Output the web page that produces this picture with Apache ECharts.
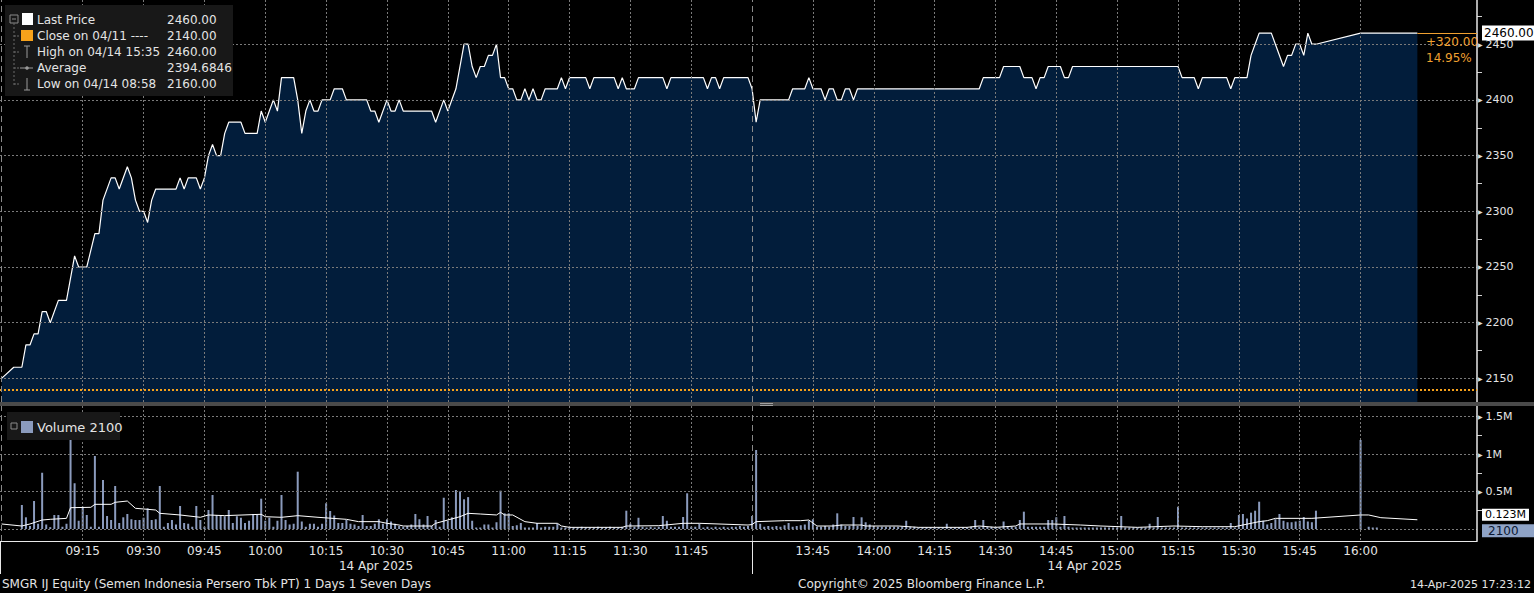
<!DOCTYPE html>
<html><head><meta charset="utf-8">
<script src="https://cdn.jsdelivr.net/npm/echarts@6/dist/echarts.min.js"></script>
<style>html,body{margin:0;padding:0;background:#000;}#c{width:1534px;height:593px;}</style>
</head><body><div id="c"></div>
<script>
// ---------- DATA ----------
const priceData = [
['08:55',2150],['08:58',2160],['09:00',2160],['09:01',2180],['09:02',2180],['09:03',2190],['09:04',2190],['09:05',2210],['09:06',2210],['09:07',2200],
['09:09',2220],['09:11',2220],['09:13',2260],['09:14',2250],['09:16',2250],['09:18',2280],['09:19',2280],['09:20',2310],['09:22',2330],['09:23',2330],
['09:24',2320],['09:26',2340],['09:27',2330],['09:28',2310],['09:29',2300],['09:30',2300],['09:31',2290],['09:32',2310],['09:33',2320],['09:38',2320],
['09:39',2330],['09:40',2320],['09:41',2330],['09:43',2330],['09:44',2320],['09:45',2330],['09:46',2350],['09:47',2360],['09:48',2350],['09:49',2350],
['09:50',2370],['09:51',2380],['09:54',2380],['09:55',2370],['09:58',2370],['09:59',2390],['10:00',2380],['10:01',2390],['10:02',2400],['10:03',2390],
['10:04',2420],['10:07',2420],['10:08',2400],['10:09',2370],['10:10',2390],['10:11',2400],['10:12',2390],['10:13',2390],['10:14',2400],['10:16',2400],
['10:17',2410],['10:19',2410],['10:20',2400],['10:25',2400],['10:26',2390],['10:27',2390],['10:28',2380],['10:30',2400],['10:31',2390],['10:32',2390],
['10:33',2400],['10:34',2390],['10:41',2390],['10:42',2380],['10:44',2400],['10:45',2390],['10:47',2410],['10:49',2450],['10:50',2450],['10:51',2430],
['10:52',2420],['10:53',2430],['10:54',2430],['10:55',2440],['10:56',2440],['10:57',2450],['10:58',2420],['10:59',2420],['11:00',2410],['11:01',2410],
['11:02',2400],['11:03',2400],['11:04',2410],['11:05',2400],['11:06',2410],['11:07',2400],['11:08',2400],['11:09',2410],['11:12',2410],['11:13',2420],
['11:14',2410],['11:15',2420],['11:19',2420],['11:20',2410],['11:21',2420],['11:26',2420],['11:27',2410],['11:28',2420],['11:29',2410],['11:31',2410],
['11:32',2420],['11:38',2420],['11:39',2410],['11:40',2420],['11:48',2420],['11:49',2410],['11:50',2420],['11:51',2420],['11:52',2410],['11:53',2420],
['11:59',2420],['13:30',2410],['13:31',2380],['13:32',2400],['13:39',2400],['13:40',2410],['13:43',2410],['13:44',2420],['13:45',2410],['13:47',2410],
['13:48',2400],['13:49',2410],['13:50',2410],['13:51',2400],['13:52',2400],['13:53',2410],['13:54',2410],['13:55',2400],['13:56',2410],['14:26',2410],
['14:27',2420],['14:31',2420],['14:32',2430],['14:36',2430],['14:37',2420],['14:39',2420],['14:40',2410],['14:41',2420],['14:42',2420],['14:43',2430],
['14:46',2430],['14:47',2420],['14:48',2420],['14:49',2430],['15:15',2430],['15:16',2420],['15:19',2420],['15:20',2410],['15:21',2420],['15:27',2420],
['15:28',2410],['15:29',2420],['15:32',2420],['15:33',2440],['15:34',2450],['15:35',2460],['15:38',2460],['15:39',2450],['15:41',2430],['15:42',2440],
['15:43',2440],['15:44',2450],['15:45',2450],['15:46',2440],['15:47',2460],['15:48',2450],['15:49',2450],['16:00',2460],['16:14',2460]
];
const prevClose = 2140;

// volume in thousands of shares, one value per minute
const volMorningStart = '09:00';
const volMorning = [
320,156,40,373,70,750,60,25,187,187,
30,70,1360,610,110,297,187,30,973,30,
653,173,120,573,80,156,200,130,120,120,
150,276,120,130,573,30,80,120,60,307,
80,70,30,307,120,30,253,453,187,187,
170,253,80,170,150,80,110,200,187,404,
110,150,30,110,453,120,60,70,764,100,
30,70,70,30,70,343,240,180,80,80,
120,70,60,40,187,40,40,70,130,70,
130,100,70,40,30,40,60,200,130,60,
173,40,120,30,417,110,156,520,500,396,
425,110,20,20,60,60,20,90,511,209,
209,40,50,80,20,20,20,80,20,30,
30,30,70,20,20,30,20,20,30,20,
20,20,30,20,20,30,20,20,30,244,
70,30,150,30,20,30,20,30,173,110,
30,30,30,160,476,30,30,70,20,30,
20,30,20,30,20,30,30,40,30,40
];
const volAfternoonStart = '13:30';
const volAfternoon = [
173,1053,70,30,40,30,40,30,50,80,
30,40,50,60,110,130,30,30,40,30,
60,209,60,40,40,160,40,156,90,60,
40,30,30,30,30,30,30,30,110,30,
30,20,20,20,20,20,20,20,70,20,
20,20,20,20,30,120,30,120,30,30,
30,20,100,30,30,30,120,231,30,30,
30,30,30,120,120,156,30,173,30,20,
20,20,20,20,20,20,20,20,20,20,
20,173,20,20,20,20,20,20,70,20,
160,20,20,20,20,297,20,20,20,20,
20,20,20,20,20,20,20,20,80,20,
187,200,140,218,244,364,110,60,80,130,
200,110,90,90,100,110,160,100,90,244,
0,0,0,0,0,0,0,0,0,0,
1187,0,30,20,20,0,0,0,0,0,
0,0,0,0,2.1
];
// volume moving-average line (thousands), read at turning points
const volAvgData = [
['08:55',67],['09:00',40],['09:02',67],['09:05',120],['09:07',129],['09:11',142],['09:12',284],['09:17',289],['09:18',329],['09:22',329],
['09:23',356],['09:26',373],['09:28',276],['09:30',267],['09:33',253],['09:34',209],['09:39',187],['09:44',156],['09:46',187],['09:50',178],
['09:59',196],['10:00',164],['10:04',156],['10:08',178],['10:13',156],['10:20',129],['10:23',98],['10:28',98],['10:30',76],['10:33',53],
['10:34',40],['10:41',40],['10:42',76],['10:45',120],['10:48',164],['10:50',209],['10:53',200],['10:57',187],['10:58',222],['10:59',187],
['11:01',187],['11:04',98],['11:07',76],['11:12',76],['11:13',40],['11:15',22],['11:28',22],['11:29',40],['11:37',44],['11:43',76],
['11:47',76],['11:59',53],['13:30',60],['13:31',98],['13:38',111],['13:42',111],['13:44',120],['13:46',40],['13:50',40],['13:52',53],
['13:57',53],['13:58',40],['14:06',40],['14:11',22],['14:23',22],['14:26',40],['14:30',22],['14:35',40],['14:36',67],['14:44',67],
['14:51',53],['14:56',40],['15:05',22],['15:14',40],['15:21',31],['15:29',31],['15:33',76],['15:35',98],['15:37',111],['15:39',142],
['15:48',142],['16:00',187],['16:02',187],['16:05',151],['16:14',123]
];

const xTickTimes = ['09:15','09:30','09:45','10:00','10:15','10:30','10:45','11:00','11:15','11:30','11:45',
                    '13:45','14:00','14:15','14:30','14:45','15:00','15:15','15:30','15:45','16:00'];
const sessionBreaks = ['08:55','13:30'];
const dateLabel = '14 Apr 2025';
const priceTicks = [2150,2200,2250,2300,2350,2400,2450];
const priceMinorTicks = [2175,2225,2275,2325,2375,2425,2475];
const volTicks = [500000,1000000,1500000];
const volGridTicks = [0,500000,1000000,1500000];
const volMinorTicks = [250000,750000,1250000];
const legendRows = [
  ['Last Price','2460.00'],
  ['Close on 04/11 ----','2140.00'],
  ['High on 04/14 15:35','2460.00'],
  ['Average','2394.6846'],
  ['Low on 04/14 08:58','2160.00']
];
const footerLeft = 'SMGR IJ Equity (Semen Indonesia Persero Tbk PT) 1 Days 1 Seven Days';
const footerMid = 'Copyright\u00a9 2025 Bloomberg Finance L.P.';
const footerRight = '14-Apr-2025 17:23:12';

// ---------- helpers ----------
// trading-time axis: minutes after 09:00 with the lunch break removed (12:00 == 13:30)
function tm(s){const p=s.split(':').map(Number);const t=p[0]*60+p[1];return t<=720?t-540:180+(t-810);}
function fmt(v){let t=v<=180?540+v:810+(v-180);t=Math.round(t);const h=Math.floor(t/60),m=t%60;return String(h).padStart(2,'0')+':'+String(m).padStart(2,'0');}

const X_MIN=-5.39, X_MAX=358.7;
const P_MIN=2128.8, P_MAX=2489.7;
const V_MIN=-160000, V_MAX=1640000;

const priceSeries = priceData.map(d=>[tm(d[0]),d[1]]);
const volSeries = [];
volMorning.forEach((v,i)=>volSeries.push([tm(volMorningStart)+i, v*1000]));
volAfternoon.forEach((v,i)=>volSeries.push([tm(volAfternoonStart)+i, v*1000]));
const avgSeries = volAvgData.map(d=>[tm(d[0]),d[1]*1000]);
const last = priceSeries[priceSeries.length-1];
const lastVol = volSeries[volSeries.length-1];
const lastAvg = avgSeries[avgSeries.length-1];
const chg = last[1]-prevClose;
const chgTxt = (chg>=0?'+':'')+chg.toFixed(2);
const pctTxt = (chg/prevClose*100).toFixed(2)+'%';

const FONT='DejaVu Sans';
const TXT='#e4e4e4';
const GRIDC='#7a7a7a';
const ORANGE='#f0a030';
const HIDDEN_LINE={color:'rgba(0,0,0,0)',width:0};

function triLabel(fmtFn){return {formatter:v=>'{t|\u25B6}{v|'+fmtFn(v)+'}', margin:1,
  rich:{t:{fontSize:6,color:'#dddddd',padding:[0,3,0,0],fontFamily:FONT},v:{fontSize:11,color:TXT,fontFamily:FONT}}};}

const chart = echarts.init(document.getElementById('c'), null, {renderer:'svg'});

const G = [];
G.push({type:'rect',shape:{x:5,y:5,width:228,height:91},style:{fill:'#181818'},z:10});
// tree
G.push({type:'rect',shape:{x:10,y:15,width:8,height:8},style:{fill:'none',stroke:'#8a8a8a',lineWidth:1},z:11});
G.push({type:'line',shape:{x1:12,y1:19,x2:16,y2:19},style:{stroke:'#8a8a8a',lineWidth:1},z:11});
G.push({type:'line',shape:{x1:14,y1:23,x2:14,y2:85},style:{stroke:'#6a6a6a',lineWidth:1,lineDash:[2,2]},z:11});
[36,52,68,84].forEach(y=>G.push({type:'line',shape:{x1:14,y1:y,x2:20,y2:y},style:{stroke:'#6a6a6a',lineWidth:1,lineDash:[2,1]},z:11}));
G.push({type:'rect',shape:{x:22,y:13,width:11,height:12},style:{fill:'#ffffff'},z:11});
G.push({type:'rect',shape:{x:21,y:30,width:12,height:11},style:{fill:'#f7a21b'},z:11});
// high icon
G.push({type:'line',shape:{x1:27,y1:46,x2:27,y2:58},style:{stroke:'#9a9a9a',lineWidth:1},z:11});
G.push({type:'line',shape:{x1:24,y1:46,x2:30,y2:46},style:{stroke:'#9a9a9a',lineWidth:1},z:11});
// average icon
G.push({type:'line',shape:{x1:20,y1:68,x2:33,y2:68},style:{stroke:'#9a9a9a',lineWidth:1},z:11});
G.push({type:'circle',shape:{cx:27,cy:68,r:1.8},style:{fill:'#9a9a9a'},z:11});
// low icon
G.push({type:'line',shape:{x1:27,y1:78,x2:27,y2:90},style:{stroke:'#9a9a9a',lineWidth:1},z:11});
G.push({type:'line',shape:{x1:24,y1:90,x2:30,y2:90},style:{stroke:'#9a9a9a',lineWidth:1},z:11});
legendRows.forEach((r,i)=>{
  const y=20+i*16;
  G.push({type:'text',z:12,style:{x:37,y:y,text:r[0],fill:TXT,font:'12px '+FONT,verticalAlign:'middle'}});
  G.push({type:'text',z:12,style:{x:167,y:y,text:r[1],fill:TXT,font:'12px '+FONT,verticalAlign:'middle'}});
});
// volume legend
G.push({type:'rect',shape:{x:7,y:412,width:113,height:28},style:{fill:'#181818'},z:10});
G.push({type:'rect',shape:{x:11,y:423,width:6,height:6},style:{fill:'none',stroke:'#8a8a8a',lineWidth:1},z:11});
G.push({type:'rect',shape:{x:21,y:421,width:12,height:12},style:{fill:'#8b9bbd'},z:11});
G.push({type:'text',z:12,style:{x:37,y:427,text:'Volume '+String(Math.round(lastVol[1])),fill:TXT,font:'13px '+FONT,verticalAlign:'middle'}});
// panel separator
G.push({type:'rect',shape:{x:0,y:402,width:1534,height:4},style:{fill:'#4a4a4a'},z:9});
G.push({type:'line',shape:{x1:760,y1:403.5,x2:773,y2:403.5},style:{stroke:'#a0a0a0',lineWidth:1},z:10});
G.push({type:'line',shape:{x1:760,y1:405.5,x2:773,y2:405.5},style:{stroke:'#a0a0a0',lineWidth:1},z:10});
// change text
G.push({type:'text',z:12,style:{x:1426,y:42,text:chgTxt,fill:ORANGE,font:'12px '+FONT,verticalAlign:'middle'}});
G.push({type:'text',z:12,style:{x:1426,y:58,text:pctTxt,fill:ORANGE,font:'12px '+FONT,verticalAlign:'middle'}});
// footer
G.push({type:'text',z:12,style:{x:2,y:584,text:footerLeft,fill:TXT,font:'12px '+FONT,verticalAlign:'middle'}});
G.push({type:'text',z:12,style:{x:798,y:584,text:footerMid,fill:TXT,font:'12px '+FONT,verticalAlign:'middle'}});
G.push({type:'text',z:12,style:{x:1531,y:584,text:footerRight,fill:TXT,font:'11px '+FONT,verticalAlign:'middle',align:'right'}});

const splitStyle = {show:true,lineStyle:{color:GRIDC,type:[2,2],width:1}};
const xTickVals = xTickTimes.map(tm);
const breakVals = sessionBreaks.map(tm);

const option = {
  backgroundColor:'#000',
  animation:false,
  textStyle:{fontFamily:FONT},
  grid:[
    {left:0,right:57,top:0,height:402,containLabel:false},
    {left:0,right:57,top:406,height:135,containLabel:false}
  ],
  xAxis:[
    {gridIndex:0,type:'value',min:X_MIN,max:X_MAX,z:3,
     axisLine:{show:false,onZero:false},axisLabel:{show:false},
     axisTick:{show:false,customValues:xTickVals},splitLine:splitStyle},
    {gridIndex:1,type:'value',min:X_MIN,max:X_MAX,z:3,position:'bottom',
     axisLine:{show:true,onZero:false,lineStyle:{color:'#e8e8e8',width:1}},
     axisTick:{show:false,customValues:xTickVals},
     axisLabel:{customValues:xTickVals,formatter:v=>fmt(v),color:TXT,fontSize:12,fontFamily:FONT,margin:4},
     splitLine:splitStyle},
    {gridIndex:1,type:'value',min:X_MIN,max:X_MAX,position:'bottom',
     axisLine:{show:false,onZero:false},splitLine:{show:false},
     axisTick:{show:true,customValues:[X_MIN+0.1,tm('13:30')],length:33,lineStyle:{color:'#e8e8e8',width:1}},
     axisLabel:{customValues:[(X_MIN+tm('12:00'))/2,(tm('13:30')+last[0])/2],formatter:()=>dateLabel,color:TXT,fontSize:12,fontFamily:FONT,margin:19}}
  ],
  yAxis:[
    {gridIndex:0,type:'value',position:'right',min:P_MIN,max:P_MAX,z:3,
     axisLine:{show:true,onZero:false,lineStyle:{color:'#e8e8e8',width:1.5}},
     axisTick:{show:false,customValues:priceTicks},
     axisLabel:Object.assign({customValues:priceTicks},triLabel(v=>String(v))),
     splitLine:splitStyle},
    {gridIndex:0,type:'value',position:'right',min:P_MIN,max:P_MAX,
     axisLine:{show:false,onZero:false},axisLabel:{show:false},splitLine:{show:false},
     axisTick:{show:true,customValues:priceMinorTicks,length:5,lineStyle:{color:'#d0d0d0'}}},
    {gridIndex:1,type:'value',position:'right',min:V_MIN,max:V_MAX,z:3,
     axisLine:{show:true,onZero:false,lineStyle:{color:'#e8e8e8',width:1.5}},
     axisTick:{show:false,customValues:volGridTicks},
     axisLabel:Object.assign({customValues:volTicks},triLabel(v=>(v/1e6)+'M')),
     splitLine:splitStyle},
    {gridIndex:1,type:'value',position:'right',min:V_MIN,max:V_MAX,
     axisLine:{show:false,onZero:false},axisLabel:{show:false},splitLine:{show:false},
     axisTick:{show:true,customValues:volMinorTicks,length:5,lineStyle:{color:'#d0d0d0'}}}
  ],
  series:[
    {name:'Last Price',type:'line',xAxisIndex:0,yAxisIndex:0,data:priceSeries,showSymbol:false,silent:true,
     lineStyle:{color:'#ffffff',width:1.2},areaStyle:{color:'#021d3b',opacity:1,origin:'start'},z:2,
     markLine:{silent:true,symbol:'none',animation:false,
       data:[
         [{coord:[X_MIN,prevClose],lineStyle:{color:'#f7a21b',type:[2,2],width:2},label:{show:false}},{coord:[X_MAX,prevClose]}],
         {xAxis:breakVals[0],lineStyle:{color:'#8a8a8a',type:[6,4],width:1},label:{show:false}},
         {xAxis:breakVals[1],lineStyle:{color:'#8a8a8a',type:[6,4],width:1},label:{show:false}},
         [{coord:[last[0],last[1]],lineStyle:{color:ORANGE,type:'solid',width:1},
           label:{show:true,position:'end',distance:5,formatter:last[1].toFixed(2),color:'#000',backgroundColor:'#ffffff',
                  padding:[2,2,1,2],fontSize:12,fontFamily:FONT}},
          {coord:[X_MAX,last[1]]}]
       ]}},
    {name:'Volume',type:'bar',xAxisIndex:1,yAxisIndex:2,data:volSeries,barWidth:2,silent:true,
     itemStyle:{color:'#8b9bbd'},z:2,
     markLine:{silent:true,symbol:'none',animation:false,
       data:[
         {xAxis:breakVals[0],lineStyle:{color:'#8a8a8a',type:[6,4],width:1},label:{show:false}},
         {xAxis:breakVals[1],lineStyle:{color:'#8a8a8a',type:[6,4],width:1},label:{show:false}},
         [{coord:[lastAvg[0],lastAvg[1]],lineStyle:HIDDEN_LINE,
           label:{show:true,position:'end',distance:5,offset:[0,-5],formatter:(lastAvg[1]/1e6).toFixed(3)+'M',color:'#000',backgroundColor:'#ffffff',
                  padding:[1,3,0,3],fontSize:11,fontFamily:FONT}},
          {coord:[X_MAX,lastAvg[1]]}]
       ]}},
    {name:'Volume Avg',type:'line',xAxisIndex:1,yAxisIndex:2,data:avgSeries,showSymbol:false,silent:true,
     lineStyle:{color:'#ffffff',width:1},z:3,
     markLine:{silent:true,symbol:'none',animation:false,
       data:[
         [{coord:[lastVol[0],lastVol[1]],lineStyle:HIDDEN_LINE,
           label:{show:true,position:'end',distance:5,offset:[0,2],formatter:String(Math.round(lastVol[1])),color:'#0b1833',backgroundColor:'#8fa3c6',
                  padding:[1,18,0,6],fontSize:12,fontFamily:FONT}},
          {coord:[X_MAX,lastVol[1]]}]
       ]}}
  ],
  graphic:G
};
chart.setOption(option);
</script>
</body></html>
